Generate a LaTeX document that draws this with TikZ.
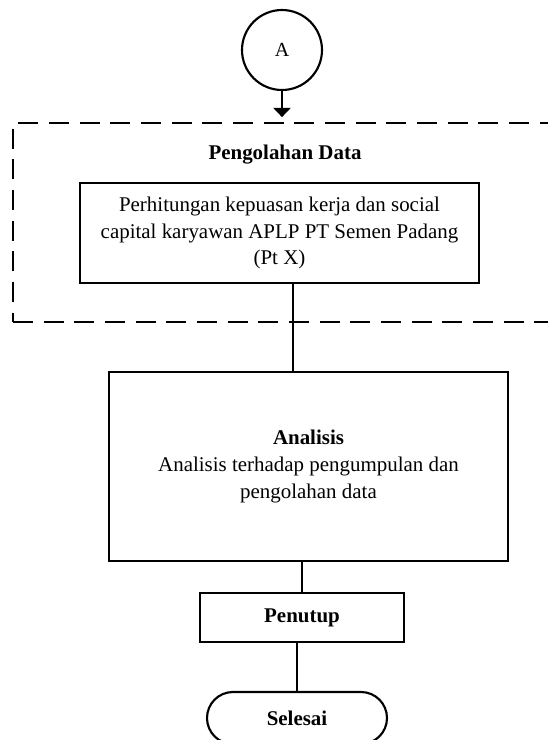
\documentclass[tikz,border=0pt]{standalone}
\usepackage{fontspec}
\setmainfont{Liberation Serif}
\usepackage{tikz}
\usetikzlibrary{calc}
\usetikzlibrary{arrows.meta}
\usetikzlibrary{shapes.misc}
\tikzset{>={Triangle[length=7pt, width=13pt]}}
\tikzstyle{txt} = [font=\fontsize{15.7}{20}\selectfont]
\tikzstyle{proc} = [draw, txt, line width=1.6pt, align=center, inner sep=0]
\tikzstyle{conn} = [draw, circle, line width=1.6pt, minimum size=60pt, inner sep=0, font=\fontsize{15}{17}\selectfont]
\tikzstyle{term} = [draw, txt, rounded rectangle, line width=1.6pt, minimum width=135pt, minimum height=39pt, inner sep=0]
\tikzstyle{grp} = [draw, line width=1.6pt, dash pattern=on 15pt off 8pt, inner sep=0]
\tikzstyle{link} = [-, line width=1.6pt]

\begin{document}
\begin{tikzpicture}[x=0.75pt, y=-0.75pt]
\useasboundingbox (0, 0) rectangle (547, 740);
% penghubung dan kelompok pengolahan data
\node [conn] (A) at (282, 50) {A};
\node [grp, minimum width=418pt, minimum height=149pt] (grp) at (291.5, 222.5) {};
\node [txt, inner sep=0] (ttl) at (285, 155) {\textbf{Pengolahan Data}};
\node [proc, minimum width=299pt, minimum height=75pt] (perh) at (279.5, 233)
  {Perhitungan kepuasan kerja dan social\\capital karyawan APLP PT Semen Padang\\(Pt X)};
% analisis dan penutup
\node [proc, minimum width=299pt, minimum height=142pt] (anl) at (308.5, 466.5)
  {\textbf{Analisis}\\Analisis terhadap pengumpulan dan\\pengolahan data};
\node [proc, minimum width=153pt, minimum height=37pt] (ptp) at (302, 617.5) {\textbf{Penutup}};
\node [term] (sls) at (297, 718) {\textbf{Selesai}};
\draw [link, ->, shorten >=3.75pt] (A) to (A |- grp.north);
\draw [link] ([xshift=10pt]perh.south) to ([xshift=10pt]perh.south |- anl.north);
\draw [link] (ptp.north |- anl.south) to (ptp.north);
\draw [link] (sls.north |- ptp.south) to (sls.north);
\end{tikzpicture}
\end{document}
